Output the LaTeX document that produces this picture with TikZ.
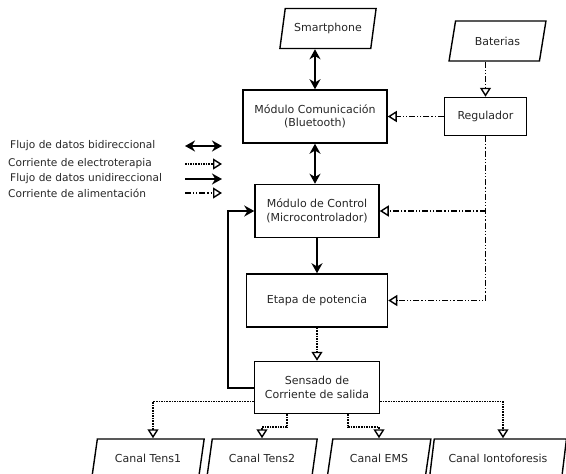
\documentclass[tikz,border=0pt]{standalone}
\usepackage{fontspec}
\setmainfont{DejaVu Sans}
\usepackage{tikz}
\usetikzlibrary{calc,shapes.geometric,arrows.meta,positioning}
\tikzset{
	paral/.style={
		draw, trapezium, trapezium left angle=73, trapezium right angle=107,
		trapezium stretches=true, minimum height=40pt, line width=1.4pt,
		inner sep=2pt, text=black!85, font=\fontsize{11}{13}\selectfont
	},
}

\begin{document}
\begin{tikzpicture}[x=1pt,y=-1pt,
			block/.style={
				draw, rectangle, line width=1.5pt, align=center,
				minimum height=53pt, inner sep=3pt, text=black!85,
				font=\fontsize{11}{13.5}\selectfont
			},
			bidir/.style={{Stealth[length=10pt,width=11pt]}-{Stealth[length=10pt,width=11pt]}, line width=2pt},
			unidir/.style={-{Stealth[length=10pt,width=11pt]}, line width=2pt},
			terapia/.style={-{Triangle[open,length=9pt,width=11pt,line width=1.4pt]}, densely dotted, line width=1.6pt},
			alim/.style={-{Triangle[open,length=9pt,width=11pt,line width=1.4pt]}, line width=1.6pt,
				dash pattern=on 6pt off 2pt on 1.2pt off 2pt on 1.2pt off 2pt},
			legend/.style={anchor=west, inner sep=0pt, text=black!85, font=\fontsize{10.6}{12}\selectfont}]
		\useasboundingbox (0,0) rectangle (566,474);
		% bloques principales
		\node[block, minimum width=144pt] (com) at (315,116.5) {Módulo Comunicación\\(Bluetooth)};
		\node[paral, minimum width=97pt, above=40pt of com, xshift=13pt] (smart) {Smartphone};
		\node[block, minimum width=82pt, minimum height=38pt, right=56pt of com] (reg) {Regulador};
		\node[paral, minimum width=97pt, above=35pt of reg, xshift=12pt] (bat) {Baterias};
		\node[block, minimum width=124pt, below=40pt of com, xshift=2pt] (ctrl) {Módulo de Control\\(Microcontrolador)};
		\node[block, minimum width=141pt, below=35pt of ctrl] (etapa) {Etapa de potencia};
		\node[block, minimum width=125pt, minimum height=52pt, below=33pt of etapa] (sens) {Sensado de\\Corriente de salida};
		% canales de salida
		\node[paral, minimum width=113pt, minimum height=39pt, below=24pt of sens, xshift=-169pt] (tens1) {Canal Tens1};
		\node[paral, minimum width=111pt, minimum height=39pt, below=24pt of sens, xshift=-55pt] (tens2) {Canal Tens2};
		\node[paral, minimum width=104pt, minimum height=39pt, below=24pt of sens, xshift=62pt] (ems) {Canal EMS};
		\node[paral, minimum width=137pt, minimum height=39pt, below=24pt of sens, xshift=181pt] (ionto) {Canal Iontoforesis};
		% flujo de datos
		\draw[bidir] (com.north) -- (com.north |- smart.south);
		\draw[bidir] (ctrl.north -| com.south) -- (com.south);
		\draw[unidir] (ctrl.south) -- (ctrl.south |- etapa.north);
		\draw[unidir] (sens.west) -- ++(-26,0) |- (ctrl.west);
		% alimentacion
		\draw[alim] (bat.south -| reg.north) -- (reg.north);
		\draw[alim] (reg.west) -- (com.east |- reg.west);
		\draw[alim] (reg.south) |- (etapa.east);
		\draw[alim] (reg.south |- ctrl.east) -- (ctrl.east);
		% corriente de electroterapia
		\draw[terapia] (etapa.south -| sens.north) -- (sens.north);
		\draw[terapia] ([yshift=-14pt]sens.west) -| ([xshift=5pt]tens1.north);
		\draw[terapia] ([xshift=-30pt]sens.south) -- ++(0,13) -| (tens2.north);
		\draw[terapia] ([xshift=31pt]sens.south) -- ++(0,13) -| (ems.north);
		\draw[terapia] ([yshift=-14pt]sens.east) -| ([xshift=5pt]ionto.north);
		% leyenda
		\node[legend] (l1) at (10,146) {Flujo de datos bidireccional};
		\node[legend] (l2) at (8,164) {Corriente de electroterapia};
		\node[legend] (l3) at (10,179) {Flujo de datos unidireccional};
		\node[legend] (l4) at (8,193) {Corriente de alimentación};
		\coordinate (a1) at (185,146); \coordinate (b1) at (222,146);
		\coordinate (a2) at (185,164); \coordinate (b2) at (222,164);
		\coordinate (a3) at (185,179); \coordinate (b3) at (222,179);
		\coordinate (a4) at (185,193); \coordinate (b4) at (222,193);
		\draw[bidir] (a1) -- (b1);
		\draw[terapia] (a2) -- (b2);
		\draw[unidir] (a3) -- (b3);
		\draw[alim] (a4) -- (b4);
	\end{tikzpicture}
\end{document}
